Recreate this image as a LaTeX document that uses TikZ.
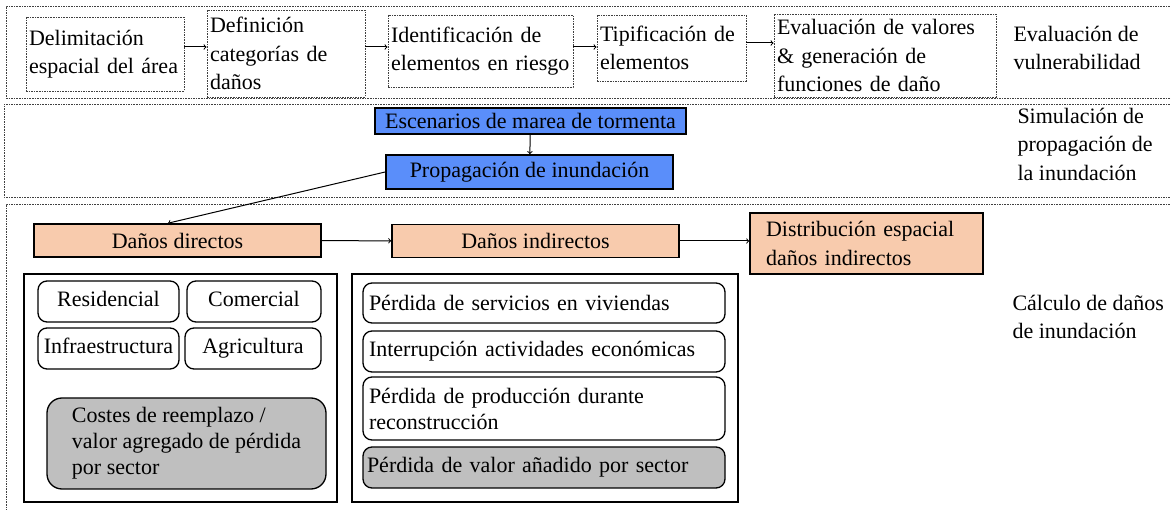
\documentclass[tikz,border=0pt]{standalone}
\usepackage{fontspec}
\setmainfont{Liberation Serif}
\definecolor{azul}{RGB}{90,142,250}
\definecolor{naranja}{RGB}{248,203,173}
\definecolor{gris}{RGB}{191,191,191}
\tikzset{
	marco/.style={draw=black!75,dash pattern=on 1.6pt off 1pt,line width=0.9pt},
	paso/.style={marco,align=left,inner xsep=3pt,inner ysep=4pt},
	azulbox/.style={draw,fill=azul,line width=1.8pt,inner sep=0pt},
	danobox/.style={draw,fill=naranja,line width=1.6pt,inner sep=0pt},
	cont/.style={draw,line width=1.4pt},
	caja/.style={draw,rounded corners=9pt,line width=1.3pt,inner sep=0pt},
	etiq/.style={align=left,anchor=west,inner sep=0pt},
}
\begin{document}
\begin{tikzpicture}[x=1pt,y=-1pt,line width=1pt,
	every node/.style={font=\fontsize{22}{28.5}\selectfont}]
\useasboundingbox (0,0) rectangle (1171,510);
% marcos de las tres etapas
\draw[marco] (1175,6) -- (6,6) -- (6,98) -- (1175,98);
\draw[marco] (1175,104) -- (4,104) -- (4,197) -- (1175,197);
\draw[marco] (1175,204) -- (6,204) -- (6,515);
% evaluacion de vulnerabilidad
\foreach \n/\x/\y/\w/\h/\t in {
	1/105/54/158/74/{Delimitación\\espacial del área},
	2/286/53.5/158/87/{Definición\\categorías de\\daños},
	3/480.5/51/185/72/{Identificación de\\elementos en riesgo},
	4/671.5/48/149/66/{Tipificación de\\elementos},
	5/885/55.5/222/83/{Evaluación de valores\\\& generación de\\funciones de daño}}{
	\pgfmathsetmacro{\tw}{\w-6}
	\node[paso,minimum width=\w pt,minimum height=\h pt,text width=\tw pt] (t\n) at (\x,\y) {\t};}
\foreach \a/\b/\y in {1/2/47,2/3/47,3/4/47,4/5/43}
	\draw[->] (t\a.east |- 0,\y) -- (t\b.west |- 0,\y);
\node[etiq] (lvul) at (1013,48) {Evaluación de\\vulnerabilidad};
% simulacion
\node[azulbox,minimum width=311pt,minimum height=26pt] (esc) at (530.5,121) {Escenarios de marea de tormenta};
\node[azulbox,minimum width=287pt,minimum height=34pt] (prop) at (529.5,172) {Propagación de inundación};
\draw[->] (esc) -- (prop);
\node[etiq] (lsim) at (1017,144) {Simulación de\\propagación de\\la inundación};
% calculo de danos
\node[danobox,minimum width=287pt,minimum height=33pt] (dd) at (177.5,240.5) {Daños directos};
\node[danobox,minimum width=287pt,minimum height=33pt] (di) at (535.5,241) {Daños indirectos};
\node[danobox,minimum width=233pt,minimum height=61pt,text width=201pt,inner xsep=16pt,align=left] (dist) at (866.5,243.5) {Distribución espacial\\daños indirectos};
\draw[->] (prop.west) -- ([xshift=-9.5pt]dd.north);
\draw[->] (dd) -- (di);
\draw[->] (di) -- (di -| dist.west);
\node[etiq] (lcal) at (1012,317) {Cálculo de daños\\de inundación};
\node[cont,minimum width=313pt,minimum height=228pt] (dir) at (180.5,388) {};
\node[cont,minimum width=386pt,minimum height=228pt] (ind) at (545,388) {};
\foreach \n/\x/\y/\w/\t in {res/108.5/301.5/141/Residencial,com/254/301.5/134/Comercial,
	inf/108.5/348.5/141/Infraestructura,agr/253/348.5/136/Agricultura}
	\node[caja,minimum width=\w pt,minimum height=41pt,text height=15pt,text depth=5pt] (\n) at (\x,\y) {\t};
\node[caja,fill=gris,rounded corners=15pt,minimum width=279pt,minimum height=91pt,align=left,
	font=\fontsize{22}{26}\selectfont] (cost) at (186.5,443.5) {Costes de reemplazo /\\valor agregado de pérdida\\por sector};
\foreach \n/\y/\h/\t in {1/303/40/{Pérdida de servicios en viviendas},
	2/351.5/41/{Interrupción actividades económicas},
	3/408.5/63/{Pérdida de producción durante\\reconstrucción}}
	\node[caja,minimum width=362pt,minimum height=\h pt,text width=350pt,inner xsep=6pt,align=left,
		font=\fontsize{22}{26}\selectfont] (per\n) at (544,\y) {\t};
\node[caja,fill=gris,minimum width=362pt,minimum height=41pt,text width=354pt,inner xsep=4pt,align=left] (per4) at (544,467.5) {Pérdida de valor añadido por sector};
\end{tikzpicture}
\end{document}
